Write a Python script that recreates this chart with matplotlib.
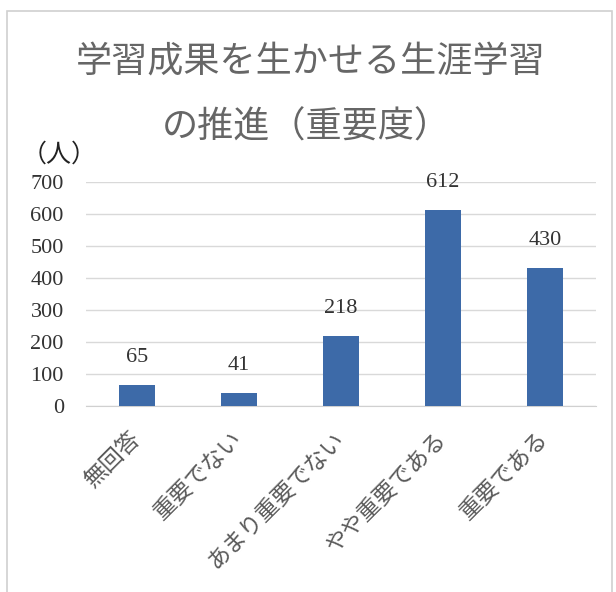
import matplotlib.pyplot as plt
from matplotlib.patches import Rectangle

# survey answers and counts
categories = ['無回答', '重要でない', 'あまり重要でない', 'やや重要である', '重要である']
counts = [65, 41, 218, 612, 430]
yticks = [0, 100, 200, 300, 400, 500, 600, 700]

plt.rcParams['font.family'] = ['Liberation Serif', 'Noto Sans CJK JP']
text_col = '#5a5a5a'
bar_col = '#3d6aa8'

fig = plt.figure(figsize=(6.16, 5.92), dpi=100)
fig.patches.append(Rectangle((7 / 616, -0.05), 605 / 616, 1 - 11 / 592 + 0.05,
                             transform=fig.transFigure, fill=False,
                             edgecolor='#d0d0d0', linewidth=1.2))

ax = fig.add_axes([86 / 616, 186 / 592, 510 / 616, 224 / 592])
x = range(len(categories))
ax.bar(x, counts, width=0.35, color=bar_col, zorder=3)
for i, v in zip(x, counts):
    ax.annotate(str(v), (i, v), xytext=(0, 20), textcoords='offset points',
                ha='center', va='center', fontsize=16, color='#333333')

ax.set_xlim(-0.5, len(categories) - 0.5)
ax.set_ylim(0, 700)
ax.set_yticks(yticks)
ax.set_yticklabels([str(t) for t in yticks], fontsize=16, color='#333333')
ax.set_xticks(list(x))
ax.set_xticklabels(categories, rotation=45, ha='right', va='center',
                   rotation_mode='anchor', fontsize=16.5, color=text_col,
                   family=['Noto Sans CJK JP'])
ax.tick_params(axis='y', length=0, pad=16)
ax.tick_params(axis='x', length=0, pad=21)
ax.grid(axis='y', color='#d9d9d9', linewidth=1, zorder=0)
for s in ['top', 'right', 'left']:
    ax.spines[s].set_visible(False)
ax.spines['bottom'].set_color('#d0d0d0')

fig.text(0.505, 1 - 63 / 592, '学習成果を生かせる生涯学習', ha='center', va='center',
         fontsize=26, color='#666666', family=['Noto Sans CJK JP'])
fig.text(0.497, 1 - 128 / 592, 'の推進（重要度）', ha='center', va='center',
         fontsize=26, color='#666666', family=['Noto Sans CJK JP'])
fig.text(22 / 616, 1 - 155 / 592, '（人）', ha='left', va='center',
         fontsize=18, color='#222222', family=['Noto Sans CJK JP'])

fig.savefig('out.png', dpi=100)
